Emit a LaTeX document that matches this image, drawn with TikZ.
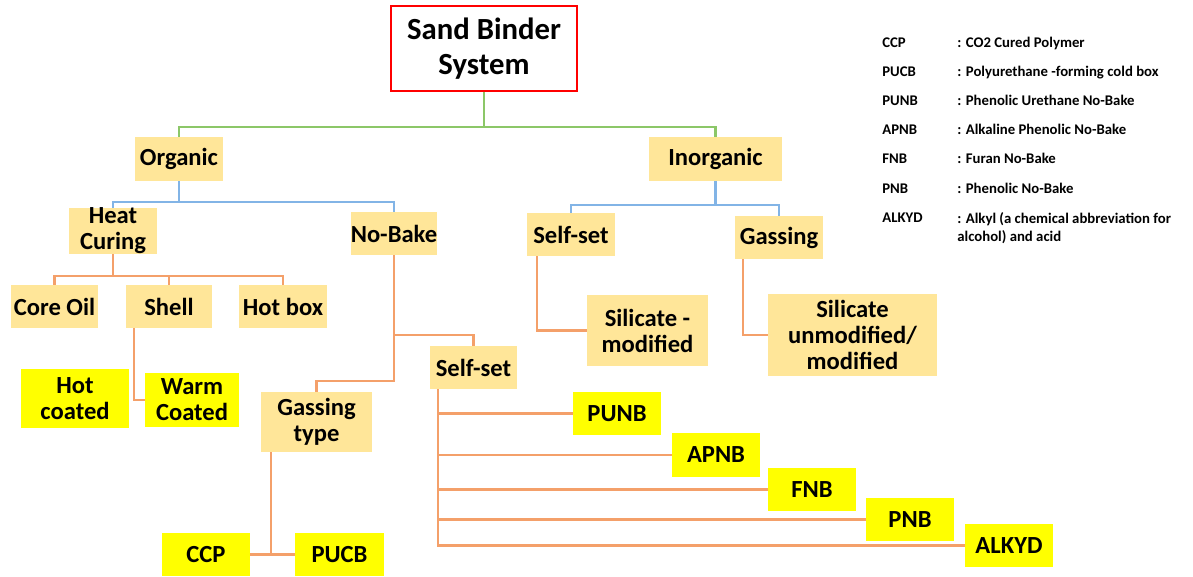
\documentclass[tikz,border=0pt]{standalone}
\usepackage{fontspec}
\setmainfont{Carlito}
\definecolor{tanfill}{HTML}{FFE699}
\definecolor{hotfill}{HTML}{FFFF00}
\definecolor{greenline}{HTML}{8CC768}
\definecolor{blueline}{HTML}{82B4E6}
\definecolor{orangeline}{HTML}{F4A06A}

\begin{document}
\begin{tikzpicture}[x=0.02cm, y=-0.02cm,
  tan/.style={fill=tanfill, inner sep=0pt, align=center, font=\bfseries\fontsize{14}{14.8}\selectfont},
  hot/.style={tan, fill=hotfill},
  boxsize/.style 2 args={minimum width=#1*0.02cm, minimum height=#2*0.02cm},
  greenlink/.style={draw=greenline, line width=1.2pt},
  bluelink/.style={draw=blueline, line width=1.2pt},
  orangelink/.style={draw=orangeline, line width=1.2pt},
  legend/.style={anchor=base west, inner sep=0pt, align=left, font=\bfseries\fontsize{8.4}{10.8}\selectfont}]

\useasboundingbox (0,0) rectangle (1193,577);

% top
\node[draw=red, line width=1.2pt, fill=white, align=center, boxsize={186}{85},
  font=\bfseries\fontsize{17.5}{19.8}\selectfont] (title) at (484,48.5) {Sand Binder\\System};

\node[tan, boxsize={88}{44}] (organic) at (179,159) {Organic};
\node[tan, boxsize={133}{44}] (inorganic) at (715.5,159) {Inorganic};

\node[tan, boxsize={88}{44}] (heat) at (113,231) {Heat\\Curing};
\node[tan, boxsize={86}{43}] (nobake) at (394,233.5) {No-Bake};
\node[tan, boxsize={88}{43}] (selfsetA) at (571,234.5) {Self-set};
\node[tan, boxsize={88}{43}] (gassingA) at (779,237.5) {Gassing};

\node[tan, boxsize={87}{43}] (coreoil) at (54.5,306.5) {Core Oil};
\node[tan, boxsize={86}{43}] (shell) at (169,306.5) {Shell};
\node[tan, boxsize={88}{43}] (hotbox) at (283,306.5) {Hot box};

\node[hot, boxsize={108}{59}] (hotcoated) at (75,398.5) {Hot\\coated};
\node[hot, boxsize={94}{54}] (warm) at (192,400) {Warm\\Coated};

\node[tan, boxsize={111}{60}] (gastype) at (316.5,422) {Gassing\\type};
\node[tan, boxsize={87}{43}] (selfsetB) at (473.5,367.5) {Self-set};

\node[tan, boxsize={121}{71}] (silmod) at (647.5,330.5) {Silicate -\\modified};
\node[tan, boxsize={169}{82}] (silunmod) at (852.5,335) {Silicate\\unmodified/\\modified};

\node[hot, boxsize={88}{43}] (ccp) at (206,554.5) {CCP};
\node[hot, boxsize={89}{43}] (pucb) at (339.5,554.5) {PUCB};

\node[hot, boxsize={88}{43}] (punb) at (617,413.5) {PUNB};
\node[hot, boxsize={88}{44}] (apnb) at (716,455) {APNB};
\node[hot, boxsize={88}{43}] (fnb) at (812,489.5) {FNB};
\node[hot, boxsize={88}{43}] (pnb) at (910,519.5) {PNB};
\node[hot, boxsize={88}{43}] (alkyd) at (1009,545.5) {ALKYD};

% links
\draw[greenlink] (title.south) -- ++(0,36);
\draw[greenlink] (organic.north) -- ++(0,-10) -| (inorganic.north);

\draw[bluelink] (organic.south) -- ++(0,21) coordinate (ob);
\draw[bluelink] (heat.north) |- (ob) -| (nobake.north);
\draw[bluelink] (inorganic.south) -- ++(0,24) coordinate (ib);
\draw[bluelink] (selfsetA.north) |- (ib) -| (gassingA.north);

\draw[orangelink] (heat.south) -- ++(0,22) coordinate (hb);
\draw[orangelink] (coreoil.north) |- (hb) -| (hotbox.north);
\draw[orangelink] (shell.north) -- (shell.north |- hb);
\draw[orangelink] ([xshift=0.16cm]shell.south west) |- (warm.west);

\draw[orangelink] (nobake.south) -- ++(0,126) -| (gastype.north);
\draw[orangelink] (nobake.south) ++(0,80) -| (selfsetB.north);

\draw[orangelink] ([xshift=0.2cm]selfsetA.south west) |- (silmod.west);
\draw[orangelink] ([xshift=0.16cm]gassingA.south west) |- (silunmod.west);

\draw[orangelink] ([xshift=0.2cm]gastype.south west) |- (ccp.east);
\draw[orangelink] (ccp.east) -- (pucb.west);

\foreach \leaf in {punb,apnb,fnb,pnb,alkyd}
  \draw[orangelink] ([xshift=0.16cm]selfsetB.south west) |- (\leaf.west);

% legend
\node[legend] (kccp) at (882,48) {CCP};
\node[legend] (dccp) at (957,48) {: CO2 Cured Polymer};
\node[legend] (kpucb) at (882,77) {PUCB};
\node[legend] (dpucb) at (957,77) {: Polyurethane -forming cold box};
\node[legend] (kpunb) at (882,106) {PUNB};
\node[legend] (dpunb) at (957,106) {: Phenolic Urethane No-Bake};
\node[legend] (kapnb) at (882,135) {APNB};
\node[legend] (dapnb) at (957,135) {: Alkaline Phenolic No-Bake};
\node[legend] (kfnb) at (882,164) {FNB};
\node[legend] (dfnb) at (957,164) {: Furan No-Bake};
\node[legend] (kpnb) at (882,194) {PNB};
\node[legend] (dpnb) at (957,194) {: Phenolic No-Bake};
\node[legend] (kalkyd) at (882,223) {ALKYD};
\node[legend] (dalkyd) at (957,242) {: Alkyl (a chemical abbreviation for\\alcohol) and acid};

\end{tikzpicture}
\end{document}
